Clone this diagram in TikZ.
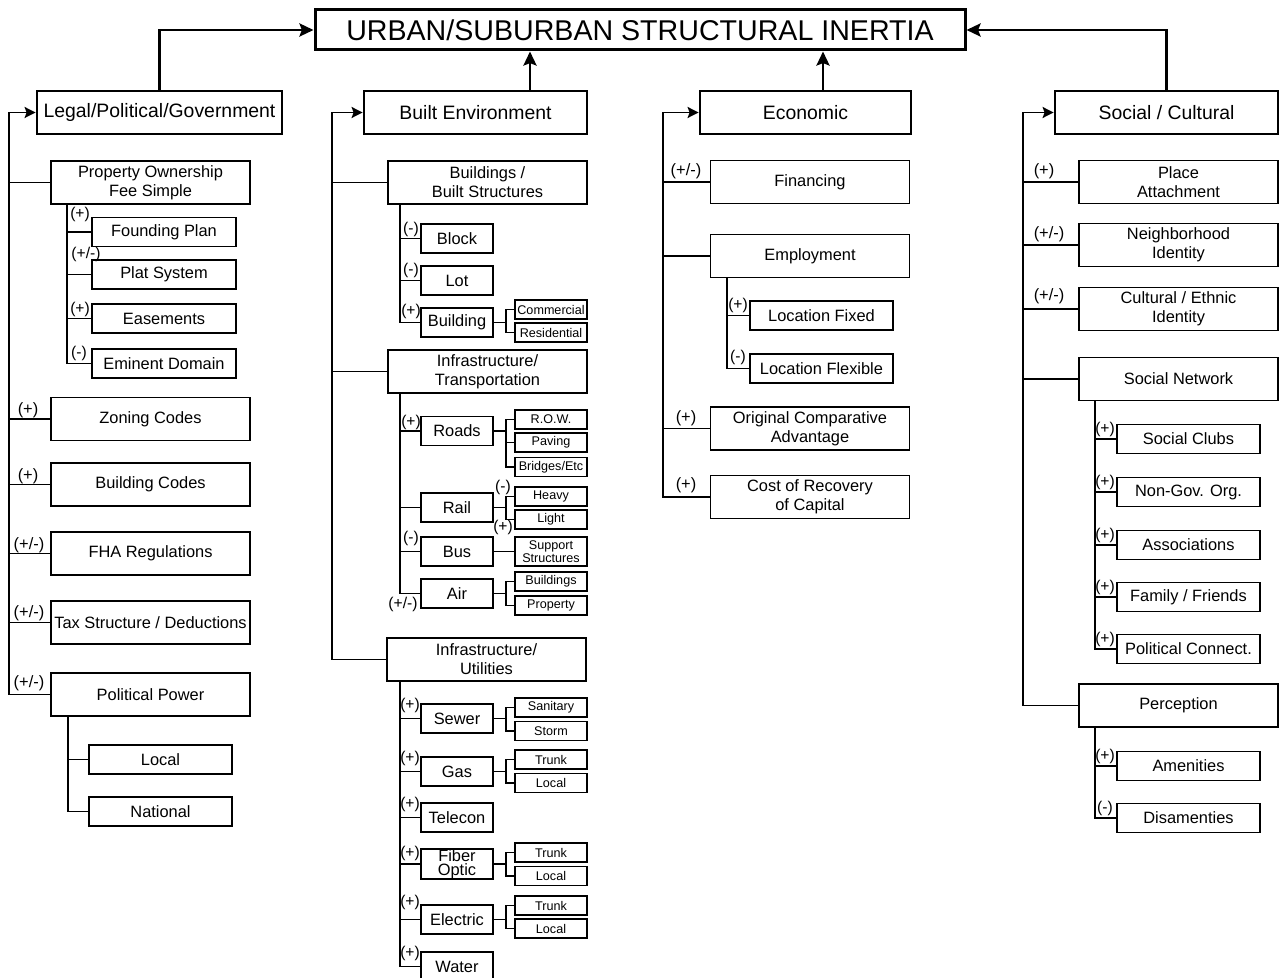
\documentclass[tikz,border=0pt]{standalone}
\usepackage{fontspec}
\setmainfont{Liberation Sans}
\usetikzlibrary{arrows.meta,calc}

\tikzset{
  titlebox/.style={draw, line width=1.5pt, inner sep=0pt, font=\fontsize{14.3}{16}\selectfont},
  topbox/.style={draw, line width=1.4pt, minimum height=21.5pt, inner sep=0pt, font=\fontsize{9.7}{11}\selectfont},
  midbox/.style={draw, line width=0.95pt, minimum width=99.5pt, minimum height=21.5pt, inner sep=0pt, align=center, font=\fontsize{8.2}{9.5}\selectfont},
  subbox/.style={midbox, minimum width=71.75pt, minimum height=14.5pt},
  smallbox/.style={midbox, minimum width=36pt, minimum height=14.5pt},
  tinybox/.style={draw, line width=0.85pt, minimum width=36pt, minimum height=9.5pt, inner sep=0pt, align=center, font=\fontsize{6.3}{6.5}\selectfont},
  sign/.style={inner sep=0pt, font=\fontsize{8.2}{9}\selectfont},
  subsign/.style={inner sep=0pt, font=\fontsize{7.8}{8}\selectfont},
  link/.style={line width=0.9pt},
  feed/.style={line width=0.95pt, -{Stealth[length=5.5pt,width=5.5pt,inset=1pt]}},
  up/.style={line width=1.4pt, -{Stealth[length=7pt,width=6.5pt,inset=1.2pt]}},
}

\begin{document}
\begin{tikzpicture}[x=0.5pt,y=-0.5pt]
		%%%%% START %%%%%
		\useasboundingbox (0,0) rectangle (1280,978);
		
		\node[titlebox, minimum width=325pt, minimum height=20pt] (title) at (640,30) {URBAN/SUBURBAN STRUCTURAL INERTIA};
		\node[topbox, minimum width=122.5pt] (legal) at (159.5,112.5) {Legal/Political/Government};
		\node[topbox, minimum width=111.5pt] (built) at (475.5,112.5) {Built Environment};
		\node[topbox, minimum width=105.5pt] (econ) at (805.5,112.5) {Economic};
		\node[topbox, minimum width=111.5pt] (social) at (1166.5,112.5) {Social / Cultural};
		
		\draw[up] (legal.north) |- (title.west);
		\draw[up] (social.north) |- (title.east);
		\coordinate (bt) at ($(built.north)+(54.5,0)$);
		\draw[up] (bt) -- (bt |- title.south);
		\coordinate (et) at ($(econ.north)+(17.5,0)$);
		\draw[up] (et) -- (et |- title.south);
		
		%%%%% LEGAL %%%%%
		\node[midbox] (prop) at (150.5,182.5) {Property Ownership\\Fee Simple};
		\node[subbox] (found) at (164,232) {Founding Plan};
		\node[subbox] (plat) at (164,274.5) {Plat System};
		\node[subbox] (ease) at (164,318.5) {Easements};
		\node[subbox] (emi) at (164,363.5) {Eminent Domain};
		\node[midbox] (zon) at (150.5,419) {Zoning Codes};
		\node[midbox] (bcod) at (150.5,484.5) {Building Codes};
		\node[midbox] (fha) at (150.5,553.5) {FHA Regulations};
		\node[midbox] (tax) at (150.5,622.5) {Tax Structure / Deductions};
		\node[midbox] (pol) at (150.5,694.5) {Political Power};
		\node[subbox] (local) at (160.5,759.5) {Local};
		\node[subbox] (natl) at (160.5,811.5) {National};
		
		\coordinate (lgs) at (9,0);
		\draw[feed] (pol.west) -| (lgs |- legal.west) -- (legal.west);
		\foreach \n in {prop,zon,bcod,fha,tax} \draw[link] (\n.west) -- (\n.west -| lgs);
		\coordinate (lvs) at (67,0);
		\draw[link] (prop.south -| lvs) |- (emi.west);
		\foreach \n in {found,plat,ease} \draw[link] (\n.west) -- (\n.west -| lvs);
		\coordinate (pvs) at (68,0);
		\draw[link] (pol.south -| pvs) |- (natl.west);
		\draw[link] (local.west) -- (local.west -| pvs);
		
		\node[subsign] (found-s) at (80,214) {(+)};
		\node[subsign] (plat-s) at (86,254) {(+/-)};
		\node[subsign] (ease-s) at (80,309) {(+)};
		\node[subsign] (emi-s) at (79,353) {(-)};
		\node[sign] (zon-s) at (28,410) {(+)};
		\node[sign] (bcod-s) at (28,476) {(+)};
		\node[sign] (fha-s) at (29,545) {(+/-)};
		\node[sign] (tax-s) at (29,613) {(+/-)};
		\node[sign] (pol-s) at (29,683) {(+/-)};
		
		%%%%% BUILT ENVIRONMENT %%%%%
		\node[midbox] (bldgs) at (487.5,182.5) {Buildings /\\Built Structures};
		\node[smallbox] (block) at (457,238.5) {Block};
		\node[smallbox] (lot) at (457,280.5) {Lot};
		\node[smallbox] (bldg) at (457,322.5) {Building};
		\node[tinybox] (comm) at (551,309.5) {Commercial};
		\node[tinybox] (resi) at (551,332.5) {Residential};
		
		\node[midbox] (trans) at (487.5,371.5) {Infrastructure/\\Transportation};
		\node[smallbox] (roads) at (457,431) {Roads};
		\node[tinybox] (row) at (551,419.5) {R.O.W.};
		\node[tinybox] (pav) at (551,442.5) {Paving};
		\node[tinybox] (brid) at (551,467) {Bridges/Etc};
		\node[smallbox] (rail) at (457,507.5) {Rail};
		\node[tinybox] (heavy) at (551,496.5) {Heavy};
		\node[tinybox] (light) at (551,519.5) {Light};
		\node[smallbox] (bus) at (457,551.5) {Bus};
		\node[tinybox, minimum height=14.5pt] (supp) at (551,551.5) {Support\\Structures};
		\node[smallbox] (air) at (457,593.5) {Air};
		\node[tinybox] (abld) at (551,581.5) {Buildings};
		\node[tinybox] (aprop) at (551,605.5) {Property};
		
		\node[midbox] (util) at (486.5,659.5) {Infrastructure/\\Utilities};
		\node[smallbox] (sewer) at (457,718.5) {Sewer};
		\node[tinybox] (san) at (551,707.5) {Sanitary};
		\node[tinybox] (storm) at (551,731) {Storm};
		\node[smallbox] (gas) at (457,771.5) {Gas};
		\node[tinybox] (gtr) at (551,759.5) {Trunk};
		\node[tinybox] (glo) at (551,783) {Local};
		\node[smallbox] (tele) at (457,817.5) {Telecon};
		\node[smallbox, font=\fontsize{8.2}{6}\selectfont] (fiber) at (457,864) {Fiber\\Optic};
		\node[tinybox] (ftr) at (551,852.5) {Trunk};
		\node[tinybox] (flo) at (551,876) {Local};
		\node[smallbox] (elec) at (457,919.5) {Electric};
		\node[tinybox] (etr) at (551,905.5) {Trunk};
		\node[tinybox] (elo) at (551,928.5) {Local};
		\node[smallbox] (water) at (457,966.5) {Water};
		
		\coordinate (bes) at (332,0);
		\draw[feed] (util.west) -| (bes |- built.west) -- (built.west);
		\foreach \n in {bldgs,trans} \draw[link] (\n.west) -- (\n.west -| bes);
		\coordinate (bvs) at (400,0);
		\draw[link] (bldgs.south -| bvs) |- (bldg.west);
		\foreach \n in {block,lot} \draw[link] (\n.west) -- (\n.west -| bvs);
		\draw[link] (trans.south -| bvs) |- (air.west);
		\foreach \n in {roads,rail,bus} \draw[link] (\n.west) -- (\n.west -| bvs);
		\draw[link] (util.south -| bvs) |- (water.west);
		\foreach \n in {sewer,gas,tele,fiber,elec} \draw[link] (\n.west) -- (\n.west -| bvs);
		
		\foreach \p/\a/\b in {bldg/comm/resi, roads/row/brid, rail/heavy/light, air/abld/aprop, sewer/san/storm, gas/gtr/glo, fiber/ftr/flo, elec/etr/elo} {
			\coordinate (\p-f) at ($(\p.east)+(12,0)$);
			\draw[link] (\p.east) -- (\p-f);
			\draw[link] (\a.west) -| (\p-f) |- (\b.west);
		}
		\draw[link] (pav.west) -- (pav.west -| roads-f);
		\draw[link] (bus) -- (supp);
		
		\node[subsign] (block-s) at (411,229) {(-)};
		\node[subsign] (lot-s) at (411,270) {(-)};
		\node[subsign] (bldg-s) at (411,311) {(+)};
		\node[subsign] (roads-s) at (411,422) {(+)};
		\node[subsign] (heavy-s) at (503,487) {(-)};
		\node[subsign] (light-s) at (503,527) {(+)};
		\node[subsign] (bus-s) at (411,538) {(-)};
		\node[subsign] (air-s) at (403,604) {(+/-)};
		\foreach \n/\y in {sewer/705,gas/758,tele/804,fiber/853,elec/902,water/953}
			\node[subsign] (\n-s) at (410,\y) {(+)};
		
		%%%%% ECONOMIC %%%%%
		\node[midbox] (fin) at (810,182) {Financing};
		\node[midbox] (emp) at (810,256) {Employment};
		\node[subbox] (lfix) at (821.5,315.5) {Location Fixed};
		\node[subbox] (lflex) at (821.5,368.5) {Location Flexible};
		\node[midbox] (oca) at (810,428.5) {Original Comparative\\Advantage};
		\node[midbox] (cost) at (810,497) {Cost of Recovery\\of Capital};
		
		\coordinate (ecs) at (663,0);
		\draw[feed] (cost.west) -| (ecs |- econ.west) -- (econ.west);
		\foreach \n in {fin,emp,oca} \draw[link] (\n.west) -- (\n.west -| ecs);
		\coordinate (evs) at (727,0);
		\draw[link] (emp.south -| evs) |- (lflex.west);
		\draw[link] (lfix.west) -- (lfix.west -| evs);
		
		\node[sign] (fin-s) at (686,171) {(+/-)};
		\node[subsign] (lfix-s) at (738,305) {(+)};
		\node[subsign] (lflex-s) at (738,357) {(-)};
		\node[sign] (oca-s) at (686,418) {(+)};
		\node[sign] (cost-s) at (686,485) {(+)};
		
		%%%%% SOCIAL %%%%%
		\node[midbox] (place) at (1178.5,182) {Place\\Attachment};
		\node[midbox] (neigh) at (1178.5,245) {Neighborhood\\Identity};
		\node[midbox] (cult) at (1178.5,309) {Cultural / Ethnic\\Identity};
		\node[midbox] (snet) at (1178.5,379) {Social Network};
		\node[subbox] (clubs) at (1188.5,439) {Social Clubs};
		\node[subbox] (ngo) at (1188.5,492) {Non-Gov. Org.};
		\node[subbox] (assoc) at (1188.5,545) {Associations};
		\node[subbox] (fam) at (1188.5,597) {Family / Friends};
		\node[subbox] (polc) at (1188.5,649) {Political Connect.};
		\node[midbox] (perc) at (1178.5,705.5) {Perception};
		\node[subbox] (amen) at (1188.5,766) {Amenities};
		\node[subbox] (disam) at (1188.5,818) {Disamenties};
		
		\coordinate (scs) at (1023,0);
		\draw[feed] (perc.west) -| (scs |- social.west) -- (social.west);
		\foreach \n in {place,neigh,cult,snet} \draw[link] (\n.west) -- (\n.west -| scs);
		\coordinate (svs) at (1095,0);
		\draw[link] (snet.south -| svs) |- (polc.west);
		\foreach \n in {clubs,ngo,assoc,fam} \draw[link] (\n.west) -- (\n.west -| svs);
		\draw[link] (perc.south -| svs) |- (disam.west);
		\draw[link] (amen.west) -- (amen.west -| svs);
		
		\node[sign] (place-s) at (1044,171) {(+)};
		\node[sign] (neigh-s) at (1049,234) {(+/-)};
		\node[sign] (cult-s) at (1049,296) {(+/-)};
		\foreach \n/\y in {clubs/429,ngo/482,assoc/535,fam/587,polc/639,amen/756}
			\node[subsign] (\n-s) at (1105,\y) {(+)};
		\node[subsign] (disam-s) at (1105,808) {(-)};
		
		%%%%% END %%%%%
\end{tikzpicture}
\end{document}
